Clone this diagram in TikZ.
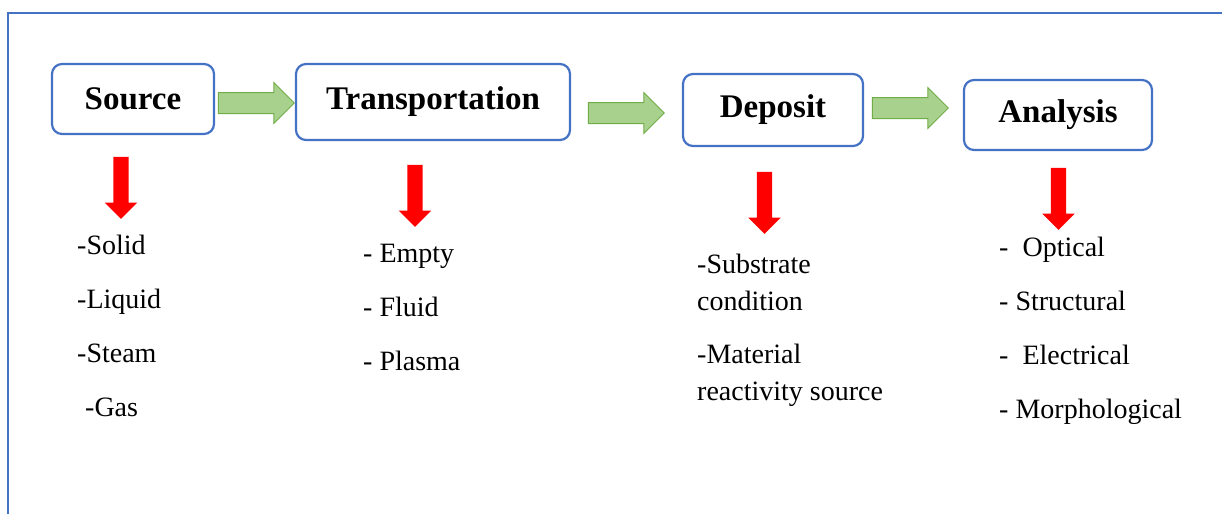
\documentclass[tikz,border=0pt]{standalone}
\usepackage{fontspec}
\setmainfont{Liberation Serif}
\usepackage{tikz}
\usetikzlibrary{shapes.arrows,positioning}
\definecolor{boxblue}{HTML}{4472C4}
\definecolor{leafgreen}{HTML}{A9D18E}
\definecolor{leafedge}{HTML}{70AD47}
\definecolor{alarm}{HTML}{FF0000}

\begin{document}
\begin{tikzpicture}[
  x=1pt,y=-1pt,
  box/.style={draw=boxblue,fill=white,rounded corners=10pt,line width=2.2pt,
    align=center,inner sep=0pt,font=\fontsize{33}{38}\selectfont\bfseries},
  garr/.style={single arrow,draw=leafedge,fill=leafgreen,line width=1pt,
    inner xsep=0pt,inner ysep=10pt,single arrow head extend=10pt,
    single arrow tip angle=90,minimum height=76pt,outer sep=0pt},
  rarr/.style={single arrow,draw=none,fill=alarm,rotate=-90,
    inner xsep=0pt,inner ysep=7.5pt,single arrow head extend=8.5pt,
    single arrow tip angle=90,minimum height=62pt,outer sep=0pt},
  lst/.style={anchor=base west,align=left,inner sep=0pt,
    font=\fontsize{28}{54}\selectfont}
]
\useasboundingbox (0,0) rectangle (1222,514);
% outer frame (left and top edges only)
\draw[boxblue,line width=2pt] (8,514) -- (8,13) -- (1222,13);

% stages
\node[box,minimum width=162pt,minimum height=70pt] (src) at (133,99) {Source};
\node[box,minimum width=274pt,minimum height=76pt] (trans) at (433,102) {Transportation};
\node[box,minimum width=180pt,minimum height=72pt] (dep) at (773,110) {Deposit};
\node[box,minimum width=188pt,minimum height=70pt] (ana) at (1058,115) {Analysis};

% green flow arrows
\node[garr] (g1) at (251,103) {};
\node[garr] (g2) at (621,113) {};
\node[garr] (g3) at (905,108) {};

% red arrows down to the lists
\node[rarr] (r1) at (121,184) {};
\node[rarr] (r2) at (415,192) {};
\node[rarr] (r3) at (764.5,199) {};
\node[rarr] (r4) at (1058.5,195) {};

% lists (anchored at the baseline of the last line)
\node[lst] (l1) at (77,416) {-Solid\\-Liquid\\-Steam\\\hspace{8pt}-Gas};
\node[lst] (l2) at (363,370) {- Empty\\- Fluid\\- Plasma};
\node[lst,font=\fontsize{28}{37}\selectfont] (l3) at (697,400)
  {-Substrate\\condition\\[16pt]-Material\\reactivity source};
\node[lst] (l4) at (999,418) {-\ \ Optical\\- Structural\\-\ \ Electrical\\- Morphological};
\end{tikzpicture}
\end{document}
